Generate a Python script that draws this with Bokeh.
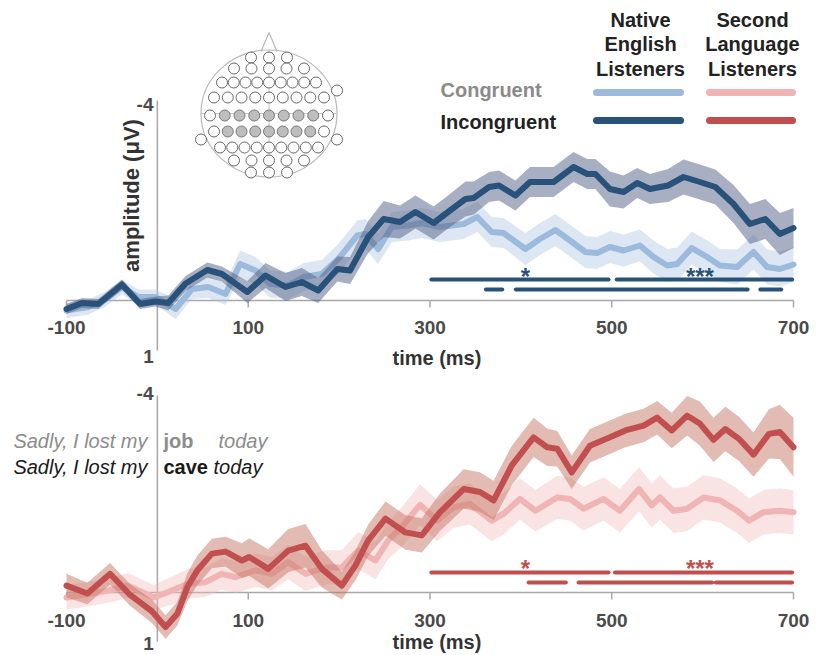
import numpy as np
from bokeh.plotting import figure
from bokeh.layouts import column
from bokeh.models import Range1d
from bokeh.core.properties import value
from bokeh.embed import file_html
from bokeh.resources import INLINE

# ---------------- data ----------------
x_ticks = [-100, 100, 300, 500, 700]
x_tick_labels = ["-100", "100", "300", "500", "700"]
y_ends = [-4, 1]
y_end_labels = ["-4", "1"]

# Native English listeners (top) – congruent
t_nat_con = [-100, -76, -57, -39, -21, -2, 20, 38, 56, 75, 91, 108, 124, 144, 161, 181, 199, 220, 229, 243,
             258, 276, 291, 311, 337, 352, 368, 381, 405, 421, 438, 454, 471, 484, 498, 513, 531, 546, 561, 572,
             588, 605, 619, 638, 656, 671, 685, 700]
v_nat_con = [0.2, 0.13, -0.03, -0.27, -0.07, -0.07, 0.17, -0.23, -0.27, -0.13, -0.73, -0.6, -0.33, -0.3, -0.47,
             -0.53, -0.83, -1.3, -1.33, -1.03, -1.47, -1.5, -1.55, -1.47, -1.53, -1.67, -1.37, -1.35, -1.03, -1.23,
             -1.41, -1.2, -0.97, -0.95, -1.07, -1.0, -1.1, -0.87, -0.7, -0.73, -1.05, -0.87, -0.7, -0.67, -0.97,
             -0.67, -0.63, -0.72]
e_nat_con = [0.15, 0.15, 0.15, 0.15, 0.15, 0.15, 0.2, 0.2, 0.22, 0.22, 0.27, 0.27, 0.27, 0.27, 0.28, 0.28, 0.3,
             0.3, 0.3, 0.3, 0.3, 0.3, 0.3, 0.3, 0.3, 0.3, 0.3, 0.3, 0.32, 0.32, 0.32, 0.32, 0.32, 0.32, 0.32, 0.32,
             0.32, 0.33, 0.33, 0.33, 0.33, 0.33, 0.33, 0.35, 0.35, 0.35, 0.35, 0.35]

# Native English listeners (top) – incongruent
t_nat_inc = [-100, -83, -65, -39, -19, -2, 12, 31, 55, 71, 99, 119, 141, 159, 177, 198, 212, 232, 249, 267,
             284, 304, 322, 339, 348, 365, 376, 394, 410, 436, 458, 473, 482, 498, 513, 528, 542, 562, 579, 597,
             614, 634, 652, 669, 685, 700]
v_nat_inc = [0.17, 0.05, 0.07, -0.32, 0.07, 0.02, 0.05, -0.34, -0.61, -0.53, -0.17, -0.5, -0.27, -0.37, -0.2,
             -0.63, -0.6, -1.27, -1.63, -1.57, -1.77, -1.55, -1.8, -2.03, -2.05, -2.27, -2.3, -2.1, -2.37, -2.37,
             -2.67, -2.53, -2.53, -2.23, -2.17, -2.35, -2.23, -2.3, -2.47, -2.37, -2.27, -1.93, -1.53, -1.63,
             -1.33, -1.45]
e_nat_inc = [0.1, 0.1, 0.1, 0.1, 0.1, 0.1, 0.15, 0.15, 0.15, 0.15, 0.22, 0.25, 0.28, 0.28, 0.25, 0.25, 0.27,
             0.32, 0.36, 0.33, 0.33, 0.33, 0.33, 0.35, 0.33, 0.3, 0.3, 0.3, 0.3, 0.3, 0.3, 0.3, 0.3, 0.35, 0.33,
             0.3, 0.3, 0.33, 0.35, 0.35, 0.35, 0.38, 0.4, 0.4, 0.42, 0.4]

# Second language listeners (bottom) – congruent
t_l2_con = [-100, -76, -54, -32, -4, 12, 34, 53, 71, 86, 108, 126, 144, 163, 185, 203, 221, 240, 254, 269,
            289, 308, 326, 344, 368, 381, 399, 416, 440, 454, 469, 491, 509, 530, 544, 553, 568, 583, 601, 619,
            638, 651, 667, 685, 700]
v_l2_con = [0.1, 0.03, -0.04, -0.14, 0.1, -0.01, -0.18, -0.21, -0.38, -0.31, -0.45, -0.38, -0.62, -0.38, -0.51,
            -0.51, -0.85, -0.65, -1.06, -1.33, -1.78, -1.46, -1.73, -1.8, -1.46, -1.6, -1.9, -1.66, -1.93, -1.9,
            -1.7, -1.9, -1.66, -2.1, -1.77, -1.93, -1.66, -1.7, -1.93, -1.87, -1.66, -1.46, -1.63, -1.66, -1.63]
e_l2_con = [0.25, 0.25, 0.25, 0.25, 0.25, 0.28, 0.3, 0.3, 0.32, 0.32, 0.34, 0.34, 0.35, 0.35, 0.35, 0.35, 0.38,
            0.38, 0.38, 0.4, 0.42, 0.42, 0.42, 0.42, 0.42, 0.42, 0.42, 0.42, 0.44, 0.44, 0.44, 0.44, 0.44, 0.45,
            0.45, 0.45, 0.45, 0.45, 0.45, 0.45, 0.45, 0.45, 0.45, 0.45, 0.45]

# Second language listeners (bottom) – incongruent
t_l2_inc = [-100, -77, -52, -30, -6, 9, 22, 33, 44, 60, 75, 93, 101, 122, 144, 163, 181, 203, 218, 232,
            251, 273, 291, 311, 337, 355, 370, 390, 414, 429, 440, 456, 476, 498, 515, 535, 550, 566, 583, 597,
            612, 625, 640, 656, 673, 685, 700]
v_l2_inc = [-0.14, 0.02, -0.38, 0.05, 0.38, 0.7, 0.43, -0.11, -0.45, -0.79, -0.83, -0.65, -0.72, -0.48, -0.85,
            -0.95, -0.48, -0.14, -0.55, -1.06, -1.5, -1.22, -1.16, -1.63, -2.1, -2.04, -1.87, -2.58, -3.15, -2.95,
            -2.92, -2.44, -2.98, -3.15, -3.29, -3.39, -3.55, -3.29, -3.59, -3.43, -3.1, -3.32, -3.12, -2.8, -3.22,
            -3.26, -2.95]
e_l2_inc = [0.24, 0.22, 0.22, 0.22, 0.24, 0.24, 0.24, 0.28, 0.3, 0.3, 0.3, 0.35, 0.38, 0.4, 0.44, 0.44, 0.38,
            0.28, 0.3, 0.32, 0.35, 0.35, 0.35, 0.38, 0.4, 0.4, 0.4, 0.4, 0.4, 0.38, 0.36, 0.34, 0.34, 0.34, 0.34,
            0.34, 0.34, 0.36, 0.4, 0.45, 0.45, 0.45, 0.45, 0.45, 0.5, 0.55, 0.6]

# significance intervals (ms)
sig_nat_row1 = [(300, 498), (504, 700)]
sig_nat_row2 = [(360, 381), (393, 651), (662, 688)]
sig_l2_row1 = [(300, 498), (502, 700)]
sig_l2_row2 = [(407, 451), (462, 612), (613, 700)]
sig_marks = ["*", "***"]
sig_mark_t = [405, 597]

group_labels = [["Native", "English", "Listeners"], ["Second", "Language", "Listeners"]]
cond_labels = ["Congruent", "Incongruent"]

# ---------------- colours / styles ----------------
C_NAT_CON = "#9cbadb"
C_NAT_INC = "#28527a"
C_L2_CON = "#f0b4b4"
C_L2_INC = "#c24f4f"
B_NAT_CON = "#a9c1e0"
B_NAT_INC = "#535f86"
B_L2_CON = "#f2b9b9"
B_L2_INC = "#c57765"
AXIS_C = "#a8a8a8"
TICK_TXT = "#4a4a4a"
FONT = value("Liberation Sans")

W, H1, H2 = 816, 378, 277
X0, X1 = -172.63, 725.31
Y1_BOT, Y1_TOP = 1.56, -6.0
Y2_BOT, Y2_TOP = 1.279, -4.345
TXT_DY = 8  # text glyphs render this many px below their anchor


def gx(px):
    return X0 + px / W * (X1 - X0)


def gy1(py):
    return Y1_TOP + py / H1 * (Y1_BOT - Y1_TOP)


def gy2(py):
    return Y2_TOP + (py - H1) / H2 * (Y2_BOT - Y2_TOP)


def make_fig(h, ybot, ytop):
    p = figure(width=W, height=h, x_range=Range1d(X0, X1), y_range=Range1d(ybot, ytop),
               x_axis_type=None, y_axis_type=None, toolbar_location=None, tools="",
               output_backend="svg", min_border=0, outline_line_color=None, title=None)
    p.grid.visible = False
    p.background_fill_color = "white"
    p.border_fill_color = "white"
    return p


def txt(p, gy, px, py, s, size="20px", color="#222222", align="left", baseline="alphabetic",
        style="bold", angle=0.0, dy=TXT_DY):
    p.text(x=[gx(px)], y=[gy(py - dy)], text=[s], text_font=FONT, text_font_size=size, text_color=color,
           text_align=align, text_baseline=baseline, text_font_style=style, angle=angle)


def draw_panel(p, gy, series, sig1, sig2, sig_color, y_tick_base, x_lab_base, one_base, time_base,
               row1_py, row2_py, star_base, zero_py):
    # axes
    p.segment(x0=[0], y0=[y_ends[0]], x1=[0], y1=[y_ends[1]], line_color=AXIS_C, line_width=1.5)
    p.segment(x0=[x_ticks[0]], y0=[0], x1=[x_ticks[-1]], y1=[0], line_color=AXIS_C, line_width=1.5)
    tick_end = gy(zero_py + 7)
    p.segment(x0=x_ticks, y0=[0] * len(x_ticks), x1=x_ticks, y1=[tick_end] * len(x_ticks),
              line_color=AXIS_C, line_width=1.5)
    # bands then lines
    for (t, v, e, lc, bc, ba) in series:
        v = np.array(v)
        e = np.array(e)
        p.varea(x=t, y1=v - e, y2=v + e, fill_color=bc, fill_alpha=ba)
        p.line(x=t, y=v, line_color=lc, line_width=6, line_join="round", line_cap="round")
    # significance bars
    for rows, py in ((sig1, row1_py), (sig2, row2_py)):
        yy = gy(py)
        p.segment(x0=[a + 1.5 for a, b in rows], x1=[b - 1.5 for a, b in rows], y0=[yy] * len(rows),
                  y1=[yy] * len(rows), line_color=sig_color, line_width=4, line_cap="round")
    p.text(x=sig_mark_t, y=[gy(star_base - TXT_DY)] * 2, text=sig_marks, text_font=FONT,
           text_font_size="24px", text_font_style="bold", text_color=sig_color, text_align="center",
           text_baseline="alphabetic")
    # tick labels
    p.text(x=x_ticks, y=[gy(x_lab_base - TXT_DY)] * len(x_ticks), text=x_tick_labels, text_font=FONT,
           text_font_size="19px", text_font_style="bold", text_color=TICK_TXT, text_align="center",
           text_baseline="alphabetic")
    txt(p, gy, 153, y_tick_base, y_end_labels[0], size="19px", color=TICK_TXT, align="right")
    txt(p, gy, 148, one_base, y_end_labels[1], size="19px", color=TICK_TXT, align="center")
    txt(p, gy, 392, time_base, "time (ms)", size="20px", color="#333333", align="left")


# ---------------- top panel ----------------
p1 = make_fig(H1, Y1_BOT, Y1_TOP)
draw_panel(p1, gy1,
           [(t_nat_con, v_nat_con, e_nat_con, C_NAT_CON, B_NAT_CON, 0.4),
            (t_nat_inc, v_nat_inc, e_nat_inc, C_NAT_INC, B_NAT_INC, 0.5)],
           sig_nat_row1, sig_nat_row2, C_NAT_INC,
           y_tick_base=112, x_lab_base=335, one_base=364, time_base=365,
           row1_py=279, row2_py=289, star_base=284, zero_py=300)

# y-axis title
txt(p1, gy1, 131, 195, "amplitude (\u03bcV)", size="22px", color="#333333", align="center",
    baseline="middle", angle=np.pi / 2, dy=0)

# legend
for i, col_px in enumerate((640, 752)):
    for j, s in enumerate(group_labels[i]):
        txt(p1, gy1, col_px, 27 + 24.5 * j, s, size="20px", color="#222222", align="center")
txt(p1, gy1, 440, 97, cond_labels[0], size="20px", color="#8a8a8a")
txt(p1, gy1, 440, 129, cond_labels[1], size="20px", color="#222222")
for (x_a, x_b), (c1, c2) in (((596, 680), (C_NAT_CON, C_NAT_INC)), ((709, 792), (C_L2_CON, C_L2_INC))):
    p1.segment(x0=[gx(x_a)], x1=[gx(x_b)], y0=[gy1(92)], y1=[gy1(92)], line_color=c1, line_width=7,
               line_cap="round")
    p1.segment(x0=[gx(x_a)], x1=[gx(x_b)], y0=[gy1(120)], y1=[gy1(120)], line_color=c2, line_width=7,
               line_cap="round")

# electrode montage inset
HCX, HCY = 268.5, 113
p1.ellipse(x=[gx(HCX)], y=[gy1(HCY)], width=136, height=127, width_units="screen", height_units="screen",
           fill_color=None, line_color="#b8b8b8", line_width=1.2)
p1.line(x=[gx(HCX - 8), gx(HCX), gx(HCX + 8)], y=[gy1(HCY - 62), gy1(HCY - 81), gy1(HCY - 62)],
        line_color="#b8b8b8", line_width=1.2)
p1.segment(x0=[gx(HCX - 68), gx(HCX)], y0=[gy1(HCY), gy1(HCY - 63)], x1=[gx(HCX + 68), gx(HCX)],
           y1=[gy1(HCY), gy1(HCY + 63)], line_color="#c8c8c8", line_width=1)
head_rows = [(-56, 3, 18), (-45, 5, 35), (-31, 9, 47), (-16, 9, 55), (2, 9, 59), (18, 9, 55),
             (34, 9, 49), (47, 5, 35), (59, 3, 18)]
ex, ey, gxs, gys = [], [], [], []
for dy, n, sp in head_rows:
    offs = np.linspace(-sp, sp, n) if n > 1 else np.array([0.0])
    for k, dx in enumerate(offs):
        if dy in (2, 18) and 0 < k < n - 1:
            gxs.append(gx(HCX + dx))
            gys.append(gy1(HCY + dy))
        else:
            ex.append(gx(HCX + dx))
            ey.append(gy1(HCY + dy))
for dx, dy in ((68, -23), (-68, 26), (68, 26)):
    ex.append(gx(HCX + dx))
    ey.append(gy1(HCY + dy))
p1.scatter(x=ex, y=ey, size=11, marker="circle", fill_color="white", line_color="#666666", line_width=1)
p1.scatter(x=gxs, y=gys, size=11, marker="circle", fill_color="#bdbdbd", line_color="#777777", line_width=1)

# ---------------- bottom panel ----------------
p2 = make_fig(H2, Y2_BOT, Y2_TOP)
draw_panel(p2, gy2,
           [(t_l2_con, v_l2_con, e_l2_con, C_L2_CON, B_L2_CON, 0.4),
            (t_l2_inc, v_l2_inc, e_l2_inc, C_L2_INC, B_L2_INC, 0.5)],
           sig_l2_row1, sig_l2_row2, C_L2_INC,
           y_tick_base=401, x_lab_base=628, one_base=651, time_base=649,
           row1_py=572, row2_py=582, star_base=576, zero_py=592)

# example sentences
txt(p2, gy2, 147, 448, "Sadly, I lost my", size="20px", color="#8c8c8c", align="right", style="italic")
txt(p2, gy2, 163, 448, "job", size="20px", color="#8c8c8c", style="bold")
txt(p2, gy2, 218, 448, "today", size="20px", color="#8c8c8c", style="italic")
txt(p2, gy2, 147, 474, "Sadly, I lost my", size="20px", color="#1a1a1a", align="right", style="italic")
txt(p2, gy2, 163, 474, "cave", size="20px", color="#1a1a1a", style="bold")
txt(p2, gy2, 213, 474, "today", size="20px", color="#1a1a1a", style="italic")

layout = column(p1, p2, spacing=0)
open("out.html", "w").write(file_html(layout, INLINE))
